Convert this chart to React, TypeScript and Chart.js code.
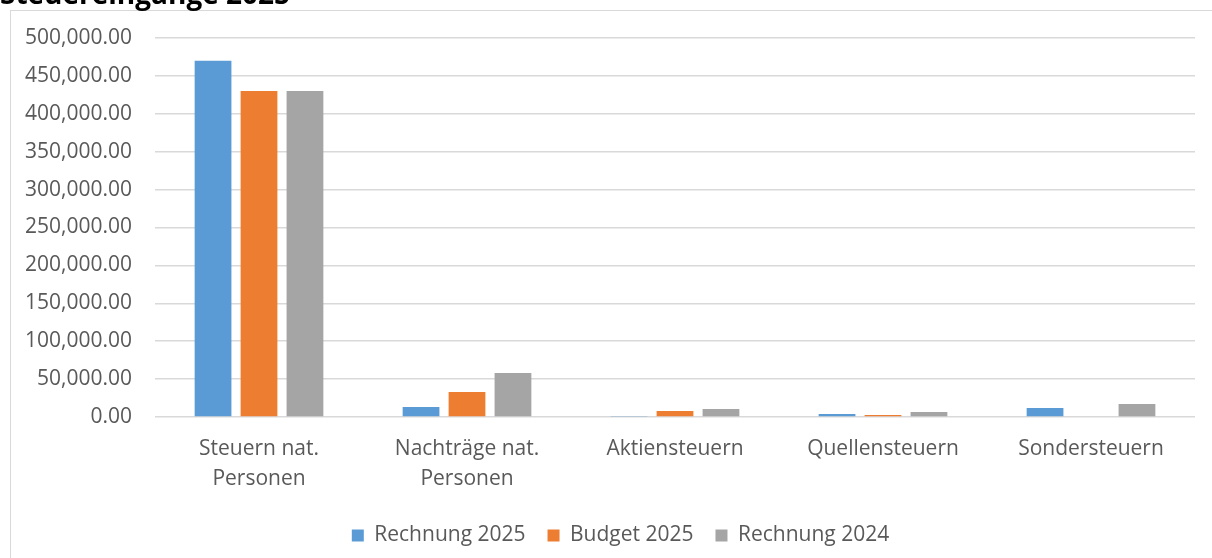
import React, { useEffect, useRef } from "react";
import { Chart, registerables } from "chart.js";

Chart.register(...registerables);

const categories: string[][] = [
  ["Steuern nat.", "Personen"],
  ["Nachträge nat.", "Personen"],
  ["Aktiensteuern"],
  ["Quellensteuern"],
  ["Sondersteuern"],
];
const rechnung2025 = [470000, 13200, 1300, 4000, 11900];
const budget2025 = [430000, 33000, 7900, 2600, 0];
const rechnung2024 = [430000, 58200, 10600, 6600, 17200];
const seriesNames = ["Rechnung 2025", "Budget 2025", "Rechnung 2024"];
const seriesColors = ["#5B9BD5", "#ED7D31", "#A5A5A5"];
const yMax = 500000;
const yStep = 50000;

const FONT = "'Open Sans', 'Noto Sans', sans-serif";
const TEXT = "#595959";

const legendShift = {
  id: "legendShift",
  afterLayout(chart: any) {
    if (chart.legend) {
      chart.legend.left += 23;
      chart.legend.right += 23;
    }
  },
};

export default function App() {
  const ref = useRef<HTMLCanvasElement | null>(null);
  useEffect(() => {
    if (!ref.current) return;
    const chart = new Chart(ref.current, {
      type: "bar",
      data: {
        labels: categories,
        datasets: [rechnung2025, budget2025, rechnung2024].map((d, i) => ({
          label: seriesNames[i],
          data: d,
          backgroundColor: seriesColors[i],
          borderWidth: 0,
          categoryPercentage: 0.663,
          barPercentage: 0.8,
        })),
      },
      plugins: [legendShift],
      options: {
        animation: false,
        responsive: false,
        maintainAspectRatio: false,
        layout: { padding: { left: 0, right: 17, top: 38, bottom: 2 } },
        plugins: {
          tooltip: { enabled: false },
          legend: {
            position: "bottom",
            labels: {
              color: TEXT,
              font: { family: FONT, size: 21 },
              boxWidth: 12,
              boxHeight: 12,
              padding: 22,
            },
          },
        },
        scales: {
          x: {
            grid: { display: false, drawTicks: false },
            border: { display: false },
            ticks: {
              color: TEXT,
              font: { family: FONT, size: 21, lineHeight: 1.43 },
              padding: 17,
              maxRotation: 0,
              autoSkip: false,
            },
            afterFit: (s: any) => {
              s.height = 86;
            },
          },
          y: {
            min: 0,
            max: yMax,
            ticks: {
              stepSize: yStep,
              color: TEXT,
              font: { family: FONT, size: 21 },
              padding: 23,
              callback: (v: any) =>
                Number(v).toLocaleString("en-US", {
                  minimumFractionDigits: 2,
                  maximumFractionDigits: 2,
                }),
            },
            grid: { color: "#D9D9D9", lineWidth: 1.5, drawTicks: false },
            border: { display: false },
            afterFit: (s: any) => {
              s.width = 155;
            },
          },
        },
      },
    });
    return () => chart.destroy();
  }, []);

  return (
    <div
      style={{
        position: "fixed",
        left: 0,
        top: 0,
        width: 1212,
        height: 558,
        overflow: "hidden",
        background: "#fff",
      }}
    >
      <div
        style={{
          position: "absolute",
          left: 10,
          top: 10,
          width: 1220,
          height: 570,
          border: "1px solid #D9D9D9",
          boxSizing: "border-box",
        }}
      />
      <canvas
        ref={ref}
        width={1212}
        height={558}
        style={{ position: "absolute", left: 0, top: 0 }}
      />
      <div
        style={{
          position: "absolute",
          left: 0,
          top: -24,
          fontFamily: FONT,
          fontWeight: 700,
          fontSize: 28,
          lineHeight: "34px",
          color: "#000",
          whiteSpace: "nowrap",
        }}
      >
        Steuereingänge 2025
      </div>
    </div>
  );
}
